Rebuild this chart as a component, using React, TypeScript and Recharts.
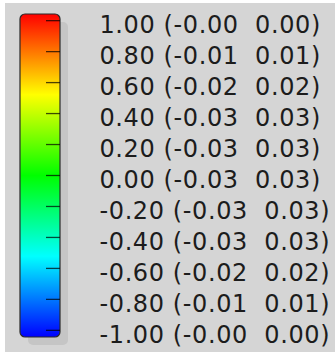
import React from 'react';
import { BarChart, Bar, XAxis, YAxis } from 'recharts';

const tickValues = [1.0, 0.8, 0.6, 0.4, 0.2, 0.0, -0.2, -0.4, -0.6, -0.8, -1.0];
const tickLabels = ['1.00', '0.80', '0.60', '0.40', '0.20', '0.00', '-0.20', '-0.40', '-0.60', '-0.80', '-1.00'];
const lowerBounds = ['-0.00', '-0.01', '-0.02', '-0.03', '-0.03', '-0.03', '-0.03', '-0.03', '-0.02', '-0.01', '-0.00'];
const upperBounds = ['0.00', '0.01', '0.02', '0.03', '0.03', '0.03', '0.03', '0.03', '0.02', '0.01', '0.00'];

// the colour bar runs a little past the end ticks
const scaleExtent = [-1.043, 1.043];
const data = [{ name: 'scale', span: scaleExtent }];

const BG = '#d5d5d5';

function ColorBarShape(props: any) {
  const { x, y, width, height } = props;
  return (
    <g>
      <rect x={x + 8} y={y + 8} width={width} height={height} rx={5} ry={5} fill="#c5c5c5" />
      <rect x={x} y={y} width={width} height={height} rx={5} ry={5} fill="url(#jet)" stroke="#2a2a2a" strokeWidth={1.2} />
    </g>
  );
}

function LabelTick(props: any) {
  const { y, payload } = props;
  const i = tickValues.findIndex((v) => Math.abs(v - payload.value) < 1e-6);
  if (i < 0) return null;
  const barRight = 55;
  return (
    <g>
      <line x1={barRight - 14} x2={barRight} y1={y} y2={y} stroke="#000" strokeOpacity={0.7} strokeWidth={1.3} />
      <text
        x={94.5}
        y={y + 12.6}
        fill="#1c1c1c"
        fontSize={24}
        letterSpacing={0.6}
        fontFamily="DejaVu Sans, Verdana, sans-serif"
        style={{ whiteSpace: 'pre' }}
        xmlSpace="preserve"
      >
        {`${tickLabels[i]} (${lowerBounds[i]}  ${upperBounds[i]})`}
      </text>
    </g>
  );
}

export default function App() {
  return (
    <div style={{ position: 'absolute', left: 0, top: 0, width: 335, height: 352, background: '#fff' }}>
      <div style={{ position: 'absolute', left: 5, top: 3, width: 330, height: 349, background: BG }}>
        <BarChart width={330} height={349} data={data} margin={{ top: 11, right: 40, bottom: 15, left: 15 }} barCategoryGap={0}>
          <defs>
            <linearGradient id="jet" x1="0" y1="0" x2="0" y2="1">
              <stop offset="0%" stopColor="#ff0000" />
              <stop offset="25%" stopColor="#ffff00" />
              <stop offset="50%" stopColor="#00ff00" />
              <stop offset="75%" stopColor="#00ffff" />
              <stop offset="100%" stopColor="#0000ff" />
            </linearGradient>
          </defs>
          <XAxis dataKey="name" hide />
          <Bar dataKey="span" isAnimationActive={false} shape={<ColorBarShape />} />
          <YAxis
            type="number"
            orientation="right"
            width={235}
            domain={scaleExtent}
            ticks={tickValues}
            interval={0}
            axisLine={false}
            tickLine={false}
            tick={<LabelTick />}
          />
        </BarChart>
      </div>
    </div>
  );
}
